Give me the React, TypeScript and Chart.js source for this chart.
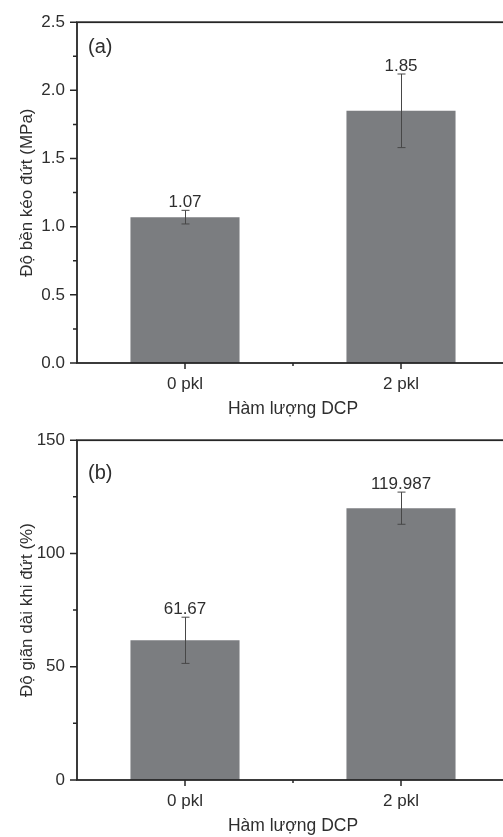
import React, { useEffect, useRef } from "react";
import { Chart, registerables } from "chart.js";

Chart.register(...registerables);

// ---- data ----
const categories = ["0 pkl", "2 pkl"];
const strengthValues = [1.07, 1.85];
const strengthErrors = [0.05, 0.27];
const strengthLabels = ["1.07", "1.85"];
const strengthTicks = [0, 0.5, 1.0, 1.5, 2.0, 2.5];

const elongationValues = [61.67, 119.987];
const elongationErrors = [10.2, 7.1];
const elongationLabels = ["61.67", "119.987"];
const elongationTicks = [0, 50, 100, 150];

const xTitle = "Hàm lượng DCP";
const strengthTitle = "Độ bền kéo đứt (MPa)";
const elongationTitle = "Độ giãn dài khi đứt (%)";

const FONT = "'Liberation Sans', Arial, sans-serif";
const FONT_SIZE = 17;
const TEXT = "#2e2e2e";
const FRAME = "#262626";
const BAR = "#7b7d80";
const ERR = "#474747";

type PanelProps = {
  top: number;
  height: number;
  values: number[];
  errors: number[];
  labels: string[];
  ticks: number[];
  decimals: number;
  yTitle: string;
  tag: string;
  tagOffset: number;
  plotTop: number;
  plotBottom: number;
  titleBottomPad: number;
};

function Panel(p: PanelProps) {
  const ref = useRef<HTMLCanvasElement | null>(null);
  useEffect(() => {
    const canvas = ref.current!;
    const W = 520;
    canvas.width = W;
    canvas.height = p.height;
    const step = p.ticks[1] - p.ticks[0];
    const minV = p.ticks[0];
    const maxV = p.ticks[p.ticks.length - 1];

    const overlay = {
      id: "overlay",
      afterDatasetsDraw(chart: any) {
        const ctx = chart.ctx;
        const ys = chart.scales.y;
        const meta = chart.getDatasetMeta(0);
        ctx.save();
        meta.data.forEach((bar: any, i: number) => {
          const v = p.values[i];
          const e = p.errors[i];
          const yT = ys.getPixelForValue(v + e);
          const yB = ys.getPixelForValue(v - e);
          const x = bar.x;
          ctx.strokeStyle = ERR;
          ctx.lineWidth = 1;
          ctx.beginPath();
          ctx.moveTo(x + 0.5, yT);
          ctx.lineTo(x + 0.5, yB);
          ctx.moveTo(x - 3.5, yT);
          ctx.lineTo(x + 4.5, yT);
          ctx.moveTo(x - 3.5, yB);
          ctx.lineTo(x + 4.5, yB);
          ctx.stroke();
          ctx.fillStyle = TEXT;
          ctx.font = `${FONT_SIZE}px ${FONT}`;
          ctx.textAlign = "center";
          ctx.textBaseline = "alphabetic";
          ctx.fillText(p.labels[i], x, yT - 3);
        });
        ctx.restore();
      },
      afterDraw(chart: any) {
        const ctx = chart.ctx;
        const a = chart.chartArea;
        const ys = chart.scales.y;
        const xs = chart.scales.x;
        ctx.save();
        ctx.strokeStyle = FRAME;
        ctx.lineWidth = 1.8;
        ctx.strokeRect(a.left, a.top, a.right - a.left, a.bottom - a.top);
        ctx.lineWidth = 1.5;
        ctx.beginPath();
        for (let v = minV; v <= maxV + 1e-9; v += step / 2) {
          const y = ys.getPixelForValue(v);
          const major = Math.abs(((v - minV) / step) - Math.round((v - minV) / step)) < 1e-6;
          const len = major ? 7 : 4;
          ctx.moveTo(a.left - len, y);
          ctx.lineTo(a.left, y);
        }
        for (let i = 0; i < categories.length; i++) {
          const x = xs.getPixelForValue(i);
          ctx.moveTo(x, a.bottom);
          ctx.lineTo(x, a.bottom + 6);
        }
        const mid = (a.left + a.right) / 2;
        ctx.moveTo(mid, a.bottom);
        ctx.lineTo(mid, a.bottom + 3);
        ctx.stroke();
        ctx.fillStyle = TEXT;
        ctx.font = `20px ${FONT}`;
        ctx.textAlign = "left";
        ctx.textBaseline = "alphabetic";
        ctx.fillText(p.tag, a.left + 11, a.top + p.tagOffset);
        ctx.restore();
      },
    };

    const chart = new Chart(canvas, {
      type: "bar",
      data: {
        labels: categories,
        datasets: [
          {
            data: p.values,
            backgroundColor: BAR,
            borderWidth: 0,
            barPercentage: 0.505,
            categoryPercentage: 1,
          },
        ],
      },
      options: {
        animation: false,
        responsive: false,
        devicePixelRatio: 1,
        events: [],
        layout: { padding: { left: 0, right: W - 509, top: p.plotTop, bottom: 0 } },
        plugins: { legend: { display: false }, tooltip: { enabled: false } },
        scales: {
          x: {
            type: "category",
            offset: true,
            grid: { display: false, drawTicks: false },
            border: { display: false },
            ticks: {
              color: TEXT,
              font: { family: FONT, size: FONT_SIZE },
              padding: 11,
              maxRotation: 0,
            },
            title: {
              display: true,
              text: xTitle,
              color: TEXT,
              font: { family: FONT, size: 17.5, lineHeight: 1 },
              padding: { top: 0, bottom: p.titleBottomPad },
            },
            afterFit(scale: any) {
              scale.height = p.height - p.plotBottom;
            },
          },
          y: {
            type: "linear",
            min: minV,
            max: maxV,
            grid: { display: false, drawTicks: false },
            border: { display: false },
            ticks: {
              stepSize: step,
              color: TEXT,
              font: { family: FONT, size: FONT_SIZE },
              padding: 12,
              callback: (v: any) => Number(v).toFixed(p.decimals),
            },
            title: {
              display: true,
              text: p.yTitle,
              color: TEXT,
              font: { family: FONT, size: FONT_SIZE, lineHeight: 1 },
              padding: { top: 19, bottom: 0 },
            },
            afterFit(scale: any) {
              scale.width = 77;
            },
          },
        },
      },
      plugins: [overlay],
    } as any);
    return () => chart.destroy();
  }, []);
  return (
    <canvas
      ref={ref}
      style={{ position: "absolute", left: 0, top: p.top, width: 520, height: p.height, display: "block" }}
    />
  );
}

export default function App() {
  return (
    <div
      style={{
        position: "absolute",
        left: 0,
        top: 0,
        width: 503,
        height: 837,
        overflow: "hidden",
        background: "#ffffff",
      }}
    >
      <Panel
        top={0}
        height={418}
        values={strengthValues}
        errors={strengthErrors}
        labels={strengthLabels}
        ticks={strengthTicks}
        decimals={1}
        yTitle={strengthTitle}
        tag="(a)"
        tagOffset={31}
        plotTop={15}
        plotBottom={363}
        titleBottomPad={0}
      />
      <Panel
        top={418}
        height={419}
        values={elongationValues}
        errors={elongationErrors}
        labels={elongationLabels}
        ticks={elongationTicks}
        decimals={0}
        yTitle={elongationTitle}
        tag="(b)"
        tagOffset={39}
        plotTop={14}
        plotBottom={362}
        titleBottomPad={2}
      />
    </div>
  );
}
